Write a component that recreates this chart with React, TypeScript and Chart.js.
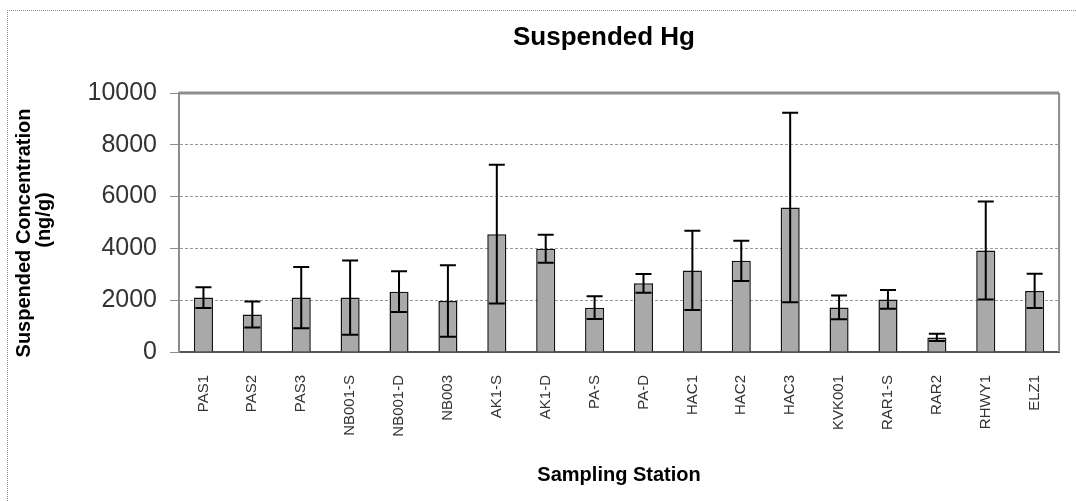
import React, { useEffect, useRef } from 'react';
import { Chart, registerables } from 'chart.js';

Chart.register(...registerables);

const stations = ['PAS1', 'PAS2', 'PAS3', 'NB001-S', 'NB001-D', 'NB003', 'AK1-S', 'AK1-D', 'PA-S', 'PA-D', 'HAC1', 'HAC2', 'HAC3', 'KVK001', 'RAR1-S', 'RAR2', 'RHWY1', 'ELZ1'];
const means = [2100, 1450, 2100, 2100, 2330, 1970, 4550, 3990, 1710, 2650, 3150, 3520, 5580, 1720, 2030, 560, 3920, 2360];
const errors = [400, 500, 1180, 1430, 790, 1380, 2680, 540, 440, 360, 1530, 780, 3660, 460, 360, 140, 1890, 660];
const yMin = 0;
const yMax = 10000;
const yStep = 2000;
const chartTitle = 'Suspended Hg';
const yTitleLines = ['Suspended Concentration', '(ng/g)'];
const xTitle = 'Sampling Station';

const FONT = '"Liberation Sans", Arial, Helvetica, sans-serif';

export default function App() {
  const ref = useRef<HTMLCanvasElement>(null);

  useEffect(() => {
    if (!ref.current) return;

    const decor = {
      id: 'decor',
      beforeDraw(chart: any) {
        const { ctx, width, height } = chart;
        ctx.save();
        ctx.fillStyle = '#ffffff';
        ctx.fillRect(0, 0, width, height);
        // outer dotted frame
        ctx.strokeStyle = '#8a8a8a';
        ctx.lineWidth = 1;
        ctx.setLineDash([1, 1]);
        ctx.beginPath();
        ctx.moveTo(7.5, height);
        ctx.lineTo(7.5, 10.5);
        ctx.lineTo(width, 10.5);
        ctx.stroke();
        ctx.setLineDash([]);
        // main title
        ctx.fillStyle = '#000';
        ctx.font = `bold 26px ${FONT}`;
        ctx.textAlign = 'center';
        ctx.textBaseline = 'alphabetic';
        ctx.fillText(chartTitle, 604, 45);
        // y axis title (two lines, rotated)
        ctx.font = `bold 20px ${FONT}`;
        ctx.textBaseline = 'middle';
        const pos = [[24, 233], [44, 220]];
        yTitleLines.forEach((t, i) => {
          ctx.save();
          ctx.translate(pos[i][0], pos[i][1]);
          ctx.rotate(-Math.PI / 2);
          ctx.fillText(t, 0, 0);
          ctx.restore();
        });
        ctx.restore();
      },
      beforeDatasetsDraw(chart: any) {
        const { ctx, chartArea } = chart;
        ctx.save();
        ctx.strokeStyle = '#8c8c8c';
        ctx.lineWidth = 3;
        ctx.beginPath();
        ctx.moveTo(chartArea.left, chartArea.top);
        ctx.lineTo(chartArea.right, chartArea.top);
        ctx.stroke();
        ctx.lineWidth = 2;
        ctx.beginPath();
        ctx.moveTo(chartArea.right, chartArea.top);
        ctx.lineTo(chartArea.right, chartArea.bottom);
        ctx.stroke();
        ctx.restore();
      },
      afterDatasetsDraw(chart: any) {
        const { ctx } = chart;
        const yScale = chart.scales.y;
        const meta = chart.getDatasetMeta(0);
        ctx.save();
        ctx.strokeStyle = '#000';
        ctx.lineWidth = 2;
        const cap = 8;
        meta.data.forEach((bar: any, i: number) => {
          const x = bar.x;
          const yHi = yScale.getPixelForValue(means[i] + errors[i]);
          const yLo = yScale.getPixelForValue(Math.max(0, means[i] - errors[i]));
          ctx.beginPath();
          ctx.moveTo(x, yLo);
          ctx.lineTo(x, yHi);
          ctx.moveTo(x - cap, yHi);
          ctx.lineTo(x + cap, yHi);
          ctx.moveTo(x - cap, yLo);
          ctx.lineTo(x + cap, yLo);
          ctx.stroke();
        });
        ctx.restore();
      },
    };

    const chart = new Chart(ref.current, {
      type: 'bar',
      data: {
        labels: stations,
        datasets: [
          {
            data: means,
            backgroundColor: '#a9a9a9',
            borderColor: '#111111',
            borderWidth: 1.5,
            categoryPercentage: 1,
            barPercentage: 0.39,
          },
        ],
      },
      options: {
        responsive: false,
        animation: false,
        devicePixelRatio: 1,
        layout: { padding: { top: 93, right: 13, bottom: 0, left: 0 } },
        plugins: {
          legend: { display: false },
          title: { display: false },
          tooltip: { enabled: false },
        },
        scales: {
          x: {
            grid: { display: false, drawTicks: false },
            border: { display: true, color: '#555555', width: 2 },
            ticks: {
              font: { family: FONT, size: 15 },
              color: '#333333',
              minRotation: 90,
              maxRotation: 90,
              autoSkip: false,
              padding: 23,
            },
            title: {
              display: true,
              text: xTitle,
              font: { family: FONT, size: 20, weight: 'bold' },
              color: '#000',
              padding: { top: 0, bottom: 14 },
            },
            afterFit(scale: any) {
              scale.height = 149;
            },
          },
          y: {
            min: yMin,
            max: yMax,
            ticks: {
              stepSize: yStep,
              font: { family: FONT, size: 25 },
              color: '#333333',
              padding: 13,
              callback: (v: any) => String(v),
            },
            grid: {
              color: '#9a9a9a',
              lineWidth: 1,
              tickLength: 9,
              tickColor: '#8c8c8c',
            },
            border: { display: true, color: '#8c8c8c', width: 2, dash: [3, 2] },
            afterFit(scale: any) {
              scale.width = 179;
            },
          },
        },
      },
      plugins: [decor],
    });

    return () => chart.destroy();
  }, []);

  return (
    <div style={{ position: 'fixed', left: 0, top: 0, width: 1076, height: 501, background: '#fff' }}>
      <canvas ref={ref} width={1076} height={501} style={{ display: 'block' }} />
    </div>
  );
}
